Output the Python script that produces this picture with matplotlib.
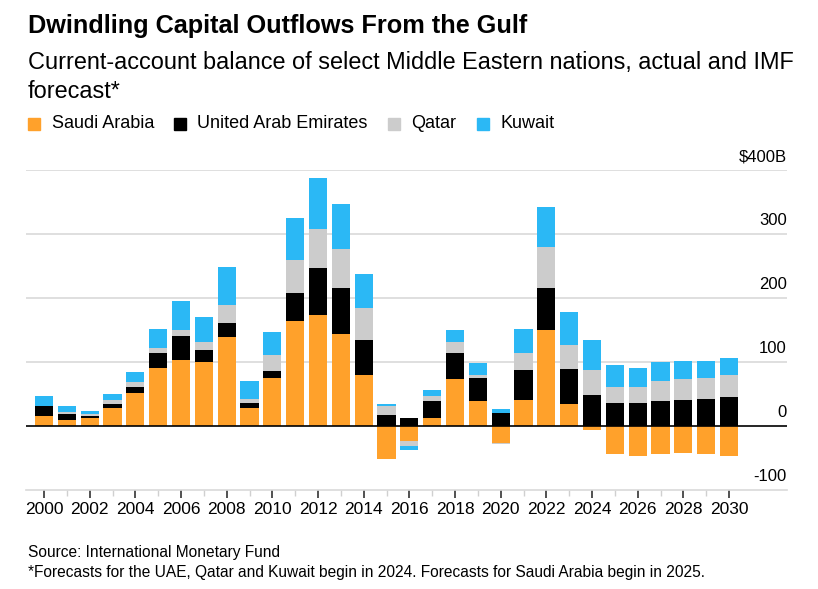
import matplotlib
matplotlib.use("Agg")
import matplotlib.pyplot as plt
from matplotlib.patches import Rectangle
from matplotlib.transforms import blended_transform_factory
import numpy as np

plt.rcParams['font.family'] = ['Liberation Sans', 'DejaVu Sans']

years = list(range(2000, 2031))
saudi = [15, 9.5, 12.5, 28.5, 52, 90, 102.5, 99.5, 139.5, 28.5, 74.5,
         164.5, 173.5, 143, 80, -52, -24, 12.5, 73, 39, -26,
         40.5, 150, 35, -6, -43, -47.5, -43, -42, -43, -47]
uae = [16, 9.5, 3, 6, 9, 23.5, 38, 19, 22, 7.5, 11.5,
       43, 73, 72.5, 54, 17, 13, 26.5, 41, 36.5, 21,
       47.5, 66, 54.5, 49, 36, 36.5, 39.5, 40.5, 42, 45]
qatar = [1, 3, 4, 6, 8, 8, 10, 12, 27, 6.5, 24.5,
         52.5, 62, 61, 50, 13.5, -8, 7.5, 16.5, 4.5, -2,
         26.5, 63, 36.5, 38, 24.5, 24.5, 31, 32.5, 32.5, 34]
kuwait = [15, 9, 4.5, 9.5, 15, 29.5, 45.5, 40.5, 60, 28, 37,
          65.5, 79, 70, 53.5, 4.5, -5.5, 9.5, 20, 18, 5.5,
          37.5, 63, 51.5, 47, 35, 30, 29, 28.5, 27.5, 26.5]

series_names = ['Saudi Arabia', 'United Arab Emirates', 'Qatar', 'Kuwait']
series_values = [saudi, uae, qatar, kuwait]
colors = ['#ffa12b', '#000000', '#cccccc', '#2bb8f5']

ytick_values = [-100, 0, 100, 200, 300, 400]
ytick_labels = ['-100', '0', '100', '200', '300', '$400B']
xtick_major = list(range(2000, 2031, 2))

W, H = 818, 589
fig = plt.figure(figsize=(W / 100, H / 100), dpi=100)
ax = fig.add_axes([26 / W, 1 - 490 / H, (787 - 26) / W, (490 - 170) / H])

x = np.array(years)
pos_bottom = np.zeros(len(years))
neg_bottom = np.zeros(len(years))
for vals, c in zip(series_values, colors):
    v = np.array(vals, dtype=float)
    bottom = np.where(v >= 0, pos_bottom, neg_bottom)
    ax.bar(x, v, bottom=bottom, width=0.8, color=c, zorder=3, linewidth=0)
    pos_bottom += np.where(v >= 0, v, 0)
    neg_bottom += np.where(v < 0, v, 0)

ax.set_xlim(1999.21, 2032.54)
ax.set_ylim(-100, 400)

for yv in ytick_values:
    if yv == 0:
        ax.axhline(0, color='black', lw=1.2, zorder=4)
    elif yv != -100:
        ax.axhline(yv, color='#d9d9d9', lw=1.2, zorder=1)

for s in ['top', 'right', 'left']:
    ax.spines[s].set_visible(False)
ax.spines['bottom'].set_color('#d9d9d9')
ax.spines['bottom'].set_linewidth(1.2)
ax.set_yticks([])

ax.set_xticks(xtick_major)
ax.set_xticklabels([str(y) for y in xtick_major], fontsize=12.5)
ax.set_xticks([y for y in years if y % 2 == 1], minor=True)
ax.tick_params(axis='x', which='major', length=6, width=1.2, color='#333333', pad=3)
ax.tick_params(axis='x', which='minor', length=4, width=1.0, color='#d0d0d0')

trans = blended_transform_factory(ax.transAxes, ax.transData)
for yv, lab in zip(ytick_values, ytick_labels):
    ax.annotate(lab, xy=(1.0, yv), xycoords=trans, xytext=(0, 4),
                textcoords='offset points', ha='right', va='bottom',
                fontsize=12, color='black')

fig.text(28 / W, 1 - 26 / H, 'Dwindling Capital Outflows From the Gulf',
         fontsize=18.2, fontweight='bold', va='center', ha='left')
fig.text(28 / W, 1 - 63 / H,
         'Current-account balance of select Middle Eastern nations, actual and IMF',
         fontsize=16.9, va='center', ha='left')
fig.text(28 / W, 1 - 92 / H, 'forecast*', fontsize=16.9, va='center', ha='left')

leg_sq_x = [28, 174, 388, 477]
leg_txt_x = [52, 197, 411, 500]
for name, c, sx, tx in zip(series_names, colors, leg_sq_x, leg_txt_x):
    fig.patches.append(Rectangle((sx / W, 1 - 130 / H), 12 / W, 12 / H,
                                 transform=fig.transFigure, color=c))
    fig.text(tx / W, 1 - 124 / H, name, fontsize=13, va='center', ha='left')

fig.text(28 / W, 1 - 553 / H, 'Source: International Monetary Fund',
         fontsize=11.2, va='center', ha='left')
fig.text(28 / W, 1 - 573 / H,
         '*Forecasts for the UAE, Qatar and Kuwait begin in 2024. Forecasts for Saudi Arabia begin in 2025.',
         fontsize=11.2, va='center', ha='left')

fig.savefig('out.png', dpi=100)
